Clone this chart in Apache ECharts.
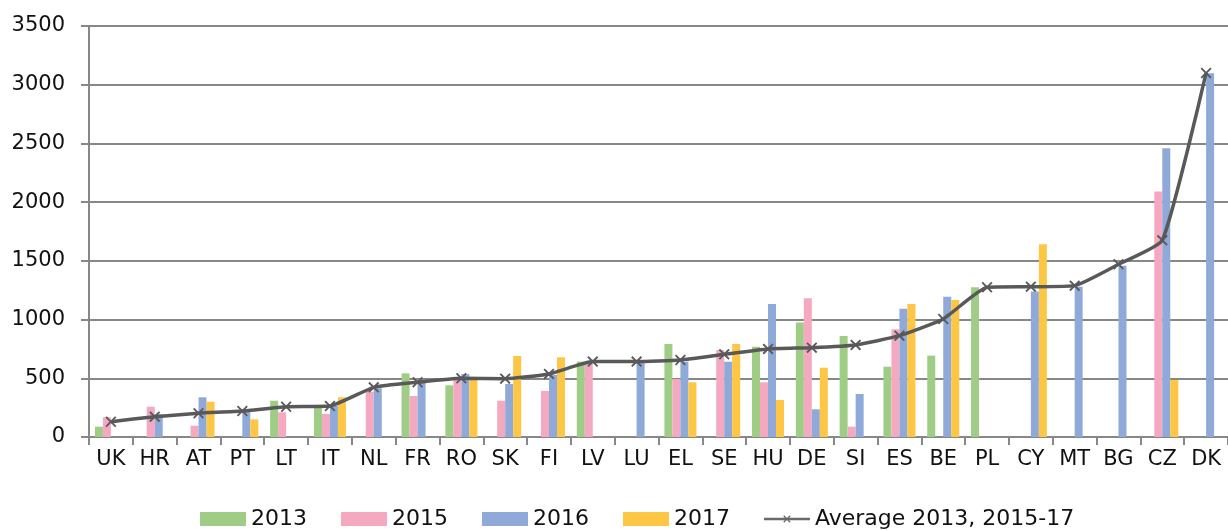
<!DOCTYPE html>
<html><head><meta charset="utf-8">
<script src="https://cdn.jsdelivr.net/npm/echarts@6/dist/echarts.min.js"></script>
<style>html,body{margin:0;padding:0;background:#fff}#c{width:1228px;height:531px}</style>
</head><body><div id="c"></div>
<script>
const categories = ['UK','HR','AT','PT','LT','IT','NL','FR','RO','SK','FI','LV','LU','EL','SE','HU','DE','SI','ES','BE','PL','CY','MT','BG','CZ','DK'];
const y2013 = [88,null,null,null,309,265,null,542,440,null,null,642,null,792,null,769,974,860,599,693,1275,null,null,null,null,null];
const y2015 = [168,258,96,null,210,196,386,349,486,309,392,622,null,494,741,466,1181,88,917,null,null,null,null,null,2090,null];
const y2016 = [null,195,338,230,null,265,415,486,537,451,528,null,642,641,641,1133,236,366,1093,1195,null,1238,1280,1459,2459,3098];
const y2017 = [null,null,301,150,null,338,null,null,500,690,679,null,null,466,792,315,590,null,1133,1167,null,1641,null,null,486,null];
const avg = [130,173,202,221,258,264,423,466,500,497,537,642,642,656,704,750,761,784,863,1005,1275,1280,1289,1471,1675,3100];
const yTicks = [0,500,1000,1500,2000,2500,3000,3500];
const seriesNames = ['2013','2015','2016','2017','Average 2013, 2015-17'];

const colors = ['#9fcd86','#f5a9c0','#8fa9d9','#fdc645','#595959'];
const xPath = 'path://M0,1.2L1.2,0L5,3.8L8.8,0L10,1.2L6.2,5L10,8.8L8.8,10L5,6.2L1.2,10L0,8.8L3.8,5Z';
const legendLinePath = 'path://M0,5.6H50V8.4H0Z M21,3.96L21.96,3L25,6.04L28.04,3L29,3.96L25.96,7L29,10.04L28.04,11L25,7.96L21.96,11L21,10.04L24.04,7Z';
const font = 'DejaVu Sans';
const chart = echarts.init(document.getElementById('c'));
const barS = (name, data, color) => ({name, type:'bar', data, barWidth:8, barGap:'0%', itemStyle:{color}, z:2});
chart.setOption({
  animation:false,
  textStyle:{fontFamily:font},
  grid:{left:89, top:26, bottom:94, right:-10, containLabel:false},
  legend:{
    left:195, top:503, itemWidth:46, itemHeight:14, itemGap:34,
    textStyle:{fontFamily:font, fontSize:22, color:'#111'},
    data:[
      {name:'2013', icon:'rect'},{name:'2015', icon:'rect'},{name:'2016', icon:'rect'},{name:'2017', icon:'rect'},
      {name:'Average 2013, 2015-17', icon:legendLinePath, itemStyle:{color:'#6a6a6a'}}
    ]
  },
  xAxis:{
    type:'category', data:categories,
    axisLine:{lineStyle:{color:'#878787', width:2}},
    axisTick:{show:true, length:8, lineStyle:{color:'#878787', width:2}},
    axisLabel:{fontFamily:font, fontSize:21, color:'#111', margin:12, interval:0}
  },
  yAxis:{
    type:'value', min:0, max:3500, interval:500,
    axisLine:{show:true, lineStyle:{color:'#878787', width:2}},
    axisTick:{show:true, length:8, lineStyle:{color:'#878787', width:2}},
    splitLine:{lineStyle:{color:'#878787', width:2}},
    axisLabel:{fontFamily:font, fontSize:21, color:'#111', margin:24,
      formatter:v => yTicks.includes(v) ? String(v) : ''}
  },
  series:[
    barS(seriesNames[0], y2013, colors[0]),
    barS(seriesNames[1], y2015, colors[1]),
    barS(seriesNames[2], y2016, colors[2]),
    barS(seriesNames[3], y2017, colors[3]),
    {name:seriesNames[4], type:'line', data:avg, smooth:0.15, z:5,
     symbol:xPath, symbolSize:11, showAllSymbol:true,
     lineStyle:{color:colors[4], width:3.5},
     itemStyle:{color:colors[4]}}
  ]
});
</script></body></html>
